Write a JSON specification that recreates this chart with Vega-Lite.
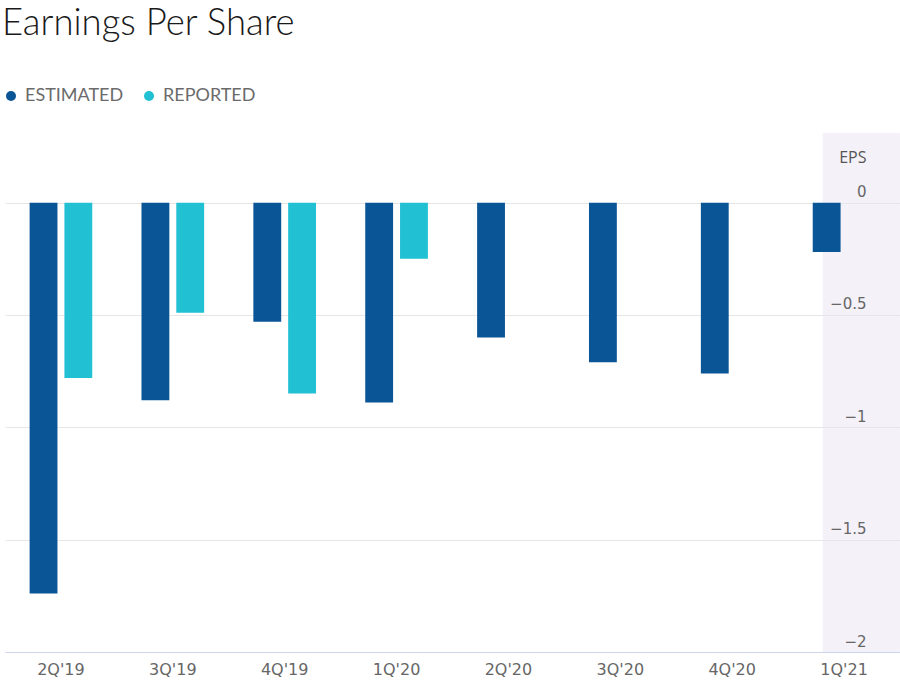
{
  "$schema": "https://vega.github.io/schema/vega-lite/v6.json",
  "width": 895,
  "height": 519,
  "autosize": {"type": "none"},
  "padding": {"left": 5, "top": 133, "right": 0, "bottom": 45},
  "background": "#ffffff",
  "title": {
    "text": "Earnings Per Share",
    "anchor": "start",
    "font": "Lato",
    "fontSize": 36.5,
    "fontWeight": 300,
    "color": "#1a1a1a",
    "offset": 45
  },
  "config": {
    "view": {"stroke": null},
    "axisX": {
      "title": null,
      "labelAngle": 0,
      "ticks": false,
      "domainColor": "#ccd6eb",
      "domainWidth": 1,
      "labelPadding": 9,
      "labelFont": "DejaVu Sans",
      "labelFontSize": 16,
      "labelColor": "#666666",
      "zindex": 1
    },
    "legend": {
      "orient": "none",
      "legendX": -3,
      "legendY": -46,
      "direction": "horizontal",
      "padding": 0,
      "symbolType": "circle",
      "symbolSize": 100,
      "symbolStrokeWidth": 0,
      "labelFont": "Lato",
      "labelFontSize": 18,
      "labelColor": "#6b6b6b",
      "labelOffset": 5,
      "columnPadding": 16,
      "title": null
    }
  },
  "layer": [
    {
      "data": {"values": [{"q": "1Q'21"}]},
      "mark": {"type": "rect", "fill": "#e9e4f2", "opacity": 0.5},
      "encoding": {
        "x": {"field": "q", "type": "nominal", "sort": null, "bandPosition": 0.16},
        "x2": {"field": "q", "bandPosition": 1.39},
        "y": {
          "datum": 0.31,
          "type": "quantitative",
          "axis": {
            "orient": "right",
            "grid": false,
            "domain": false,
            "ticks": false,
            "tickSize": 0,
            "values": [0, -0.5, -1, -1.5, -2],
            "format": "~g",
            "labelAlign": "right",
            "labelBaseline": "alphabetic",
            "labelPadding": -34,
            "labelOffset": -6,
            "labelFont": "DejaVu Sans",
            "labelFontSize": 15,
            "labelColor": "#666666",
            "title": "EPS",
            "titleAngle": 0,
            "titleAlign": "right",
            "titleBaseline": "alphabetic",
            "titleX": -34,
            "titleY": 29,
            "titleFont": "Open Sans",
            "titleFontSize": 16,
            "titleFontWeight": "normal",
            "titleColor": "#555555",
            "zindex": 1
          }
        },
        "y2": {"datum": -2}
      }
    },
    {
      "data": {
        "values": [
          {"q": "2Q'19", "series": "ESTIMATED", "eps": -1.74},
          {"q": "2Q'19", "series": "REPORTED", "eps": -0.78},
          {"q": "3Q'19", "series": "ESTIMATED", "eps": -0.88},
          {"q": "3Q'19", "series": "REPORTED", "eps": -0.49},
          {"q": "4Q'19", "series": "ESTIMATED", "eps": -0.53},
          {"q": "4Q'19", "series": "REPORTED", "eps": -0.85},
          {"q": "1Q'20", "series": "ESTIMATED", "eps": -0.89},
          {"q": "1Q'20", "series": "REPORTED", "eps": -0.25},
          {"q": "2Q'20", "series": "ESTIMATED", "eps": -0.6},
          {"q": "3Q'20", "series": "ESTIMATED", "eps": -0.71},
          {"q": "4Q'20", "series": "ESTIMATED", "eps": -0.76},
          {"q": "1Q'21", "series": "ESTIMATED", "eps": -0.22}
        ]
      },
      "mark": {"type": "bar"},
      "encoding": {
        "x": {
          "field": "q",
          "type": "nominal",
          "sort": null,
          "scale": {"domain": ["2Q'19", "3Q'19", "4Q'19", "1Q'20", "2Q'20", "3Q'20", "4Q'20", "1Q'21"], "paddingInner": 0.44, "paddingOuter": 0.22}
        },
        "xOffset": {
          "field": "series",
          "type": "nominal",
          "scale": {"domain": ["ESTIMATED", "REPORTED"], "paddingInner": 0.2, "paddingOuter": 0}
        },
        "y": {
          "field": "eps",
          "type": "quantitative",
          "scale": {"domain": [-2, 0.31], "nice": false, "zero": false},
          "axis": {
            "orient": "left",
            "grid": true,
            "gridColor": "#e6e6e6",
            "gridWidth": 1,
            "values": [0, -0.5, -1, -1.5, -2],
            "labels": false,
            "ticks": false,
            "domain": false,
            "title": null,
            "zindex": 0
          }
        },
        "color": {
          "field": "series",
          "type": "nominal",
          "scale": {"domain": ["ESTIMATED", "REPORTED"], "range": ["#0a5596", "#21c0d3"]},
          "legend": {}
        }
      }
    }
  ],
  "resolve": {"axis": {"y": "independent"}}
}
